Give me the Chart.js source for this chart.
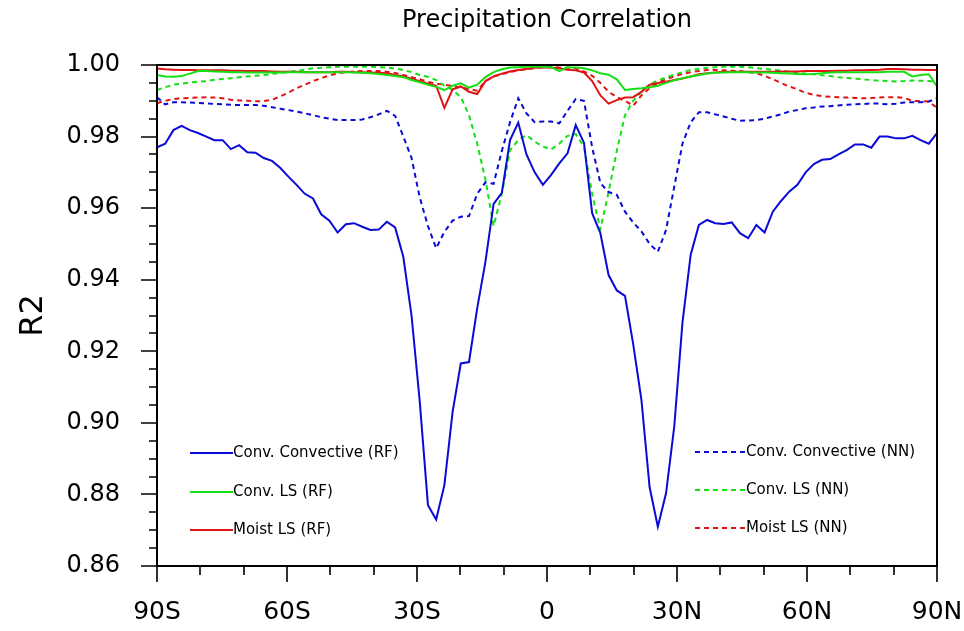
<!DOCTYPE html>
<html><head><meta charset="utf-8">
<script src="https://cdn.jsdelivr.net/npm/chart.js@4/dist/chart.umd.min.js"></script>
<style>html,body{margin:0;padding:0;background:#fff}canvas{display:block}</style>
</head><body>
<canvas id="c" width="964" height="631"></canvas>
<script>
const lats = [-90.00,-88.11,-86.21,-84.32,-82.42,-80.53,-78.63,-76.74,-74.84,-72.95,
-71.05,-69.16,-67.26,-65.37,-63.47,-61.58,-59.68,-57.79,-55.89,-54.00,
-52.11,-50.21,-48.32,-46.42,-44.53,-42.63,-40.74,-38.84,-36.95,-35.05,
-33.16,-31.26,-29.37,-27.47,-25.58,-23.68,-21.79,-19.89,-18.00,-16.11,
-14.21,-12.32,-10.42,-8.53,-6.63,-4.74,-2.84,-0.95,0.95,2.84,
4.74,6.63,8.53,10.42,12.32,14.21,16.11,18.00,19.89,21.79,
23.68,25.58,27.47,29.37,31.26,33.16,35.05,36.95,38.84,40.74,
42.63,44.53,46.42,48.32,50.21,52.11,54.00,55.89,57.79,59.68,
61.58,63.47,65.37,67.26,69.16,71.05,72.95,74.84,76.74,78.63,
80.53,82.42,84.32,86.21,88.11,90.00];

const convConvRF = [.977,.978,.9818,.983,.9818,.981,.980,.979,.979,.9765,
.9776,.9756,.9755,.974,.9732,.9713,.9688,.9665,.964,.9627,
.9583,.9565,.9532,.9555,.9558,.9548,.9539,.954,.9562,.9546,
.9464,.930,.906,.877,.873,.8826,.903,.9166,.917,.932,
.945,.9612,.9643,.979,.9839,.975,.970,.9665,.9693,.9725,
.9753,.9832,.9783,.9586,.953,.9413,.937,.9355,.922,.9064,
.882,.871,.8803,.899,.928,.947,.9553,.9567,.9558,.9556,
.956,.953,.9516,.9553,.9532,.959,.962,.9646,.9665,.970,
.9723,.9735,.9737,.975,.9762,.9778,.9778,.9769,.980,.980,
.9795,.9795,.9802,.979,.978,.981];

const convLsRF = [.9972,.9968,.9967,.9969,.9976,.9983,.9983,.9982,.9981,.998,
.998,.9979,.9979,.9979,.9979,.9979,.998,.998,.998,.998,
.998,.998,.998,.998,.9979,.9978,.9977,.9975,.9972,.9969,
.9966,.9958,.9952,.9945,.9939,.993,.9942,.9949,.9937,.9945,
.9966,.998,.9988,.9993,.9994,.9995,.9995,.9995,.9994,.9983,
.9994,.9993,.9991,.9985,.9977,.9973,.996,.993,.9933,.9935,
.9938,.9942,.995,.9957,.9963,.9968,.9972,.9976,.9978,.9979,
.998,.998,.998,.9979,.9979,.9978,.9977,.9976,.9975,.9974,
.9975,.9977,.9979,.998,.998,.998,.998,.998,.998,.9981,
.9981,.9981,.9968,.9972,.9974,.994];

const moistLsRF = [.999,.9988,.9987,.9986,.9986,.9985,.9985,.9985,.9985,.9984,
.9984,.9983,.9983,.9983,.9982,.9981,.9981,.9981,.998,.998,
.998,.998,.9981,.9981,.998,.998,.9979,.9978,.9977,.9972,
.9968,.9962,.9955,.9948,.9942,.988,.9932,.994,.9925,.9919,
.9955,.9968,.9976,.9982,.9986,.9989,.9992,.9994,.9993,.999,
.9987,.9985,.9979,.9955,.9915,.9892,.9902,.9909,.991,.9925,
.9945,.995,.9953,.9958,.9962,.9968,.9974,.9977,.9979,.9981,
.9981,.9981,.9981,.9981,.9981,.9981,.9982,.9982,.9982,.9983,
.9983,.9983,.9983,.9984,.9984,.9985,.9985,.9986,.9987,.9989,
.9989,.9988,.9987,.9987,.9986,.9986];

const convConvNN = [.991,.989,.9896,.9896,.9895,.9894,.9893,.9891,.989,.9889,
.9888,.9888,.9888,.9886,.9882,.9878,.9874,.987,.9865,.986,
.9854,.985,.9846,.9846,.9846,.9848,.9854,.9862,.9872,.9858,
.980,.974,.963,.955,.9488,.9534,.9565,.9576,.9578,.964,
.9672,.9668,.976,.984,.9907,.9865,.984,.9842,.9842,.9837,
.9872,.9905,.990,.977,.967,.9645,.9637,.959,.956,.9535,
.950,.9478,.9539,.966,.978,.984,.9868,.9868,.9862,.9856,
.985,.9844,.9845,.9846,.985,.9856,.9862,.987,.9874,.9879,
.9881,.9884,.9885,.9887,.9889,.989,.9891,.9893,.9892,.989,
.9892,.9895,.9896,.9896,.9898,.9907];

const convLsNN = [.993,.9938,.9945,.9948,.9951,.9953,.9955,.9959,.9961,.9963,
.9966,.9968,.997,.9972,.9975,.9978,.998,.9984,.9987,.9991,
.9992,.9994,.9995,.9995,.9995,.9995,.9995,.9994,.9993,.999,
.9986,.998,.9972,.9967,.9958,.9942,.993,.991,.986,.978,
.968,.955,.964,.9762,.979,.9804,.9786,.9772,.9764,.978,
.9802,.9807,.9772,.964,.954,.9645,.976,.986,.990,.9925,
.9945,.9957,.9965,.9973,.998,.9986,.9989,.9992,.9994,.9995,
.9995,.9995,.9994,.9991,.9989,.9987,.9984,.9981,.9978,.9976,
.9974,.9971,.9969,.9966,.9964,.9962,.996,.9958,.9956,.9955,
.9954,.9955,.9957,.9956,.9955,.9953];

const moistLsNN = [.9893,.99,.9905,.9907,.9908,.9909,.991,.9909,.9907,.9903,
.9901,.99,.9899,.9899,.9903,.9912,.9923,.9935,.9945,.9955,
.9963,.9971,.9977,.998,.9982,.9983,.9983,.9983,.9981,.9978,
.9972,.9966,.996,.9953,.9948,.9945,.9941,.9937,.9933,.9928,
.9955,.9968,.9974,.998,.9985,.9988,.9991,.9994,.9994,.9993,
.9992,.999,.9982,.997,.995,.9925,.991,.99,.9886,.9915,
.9935,.995,.996,.9968,.9975,.998,.9983,.9986,.9986,.9985,
.9984,.9983,.998,.9977,.997,.996,.995,.994,.9932,.9922,
.9917,.9913,.9911,.991,.9909,.9908,.9907,.9908,.9909,.991,
.991,.9908,.99,.9899,.9898,.988];

const xTickValues = [-90, -60, -30, 0, 30, 60, 90];
const xTickLabels = ['90S', '60S', '30S', '0', '30N', '60N', '90N'];
const yTickValues = [0.86, 0.88, 0.90, 0.92, 0.94, 0.96, 0.98, 1.00];
const seriesNames = ['Conv. Convective (RF)', 'Conv. LS (RF)', 'Moist LS (RF)',
                     'Conv. Convective (NN)', 'Conv. LS (NN)', 'Moist LS (NN)'];
const chartTitle = 'Precipitation Correlation';
const yTitle = 'R2';

const FONT = "'DejaVu Sans', sans-serif";
const BLUE = '#0a0ad6', GREEN = '#14e014', RED = '#e01414';
const DASH = [5, 4];

function pts(vals) { return vals.map((v, i) => ({x: lats[i], y: v})); }

const series = [
  {name: seriesNames[0], data: convConvRF, color: BLUE, dash: []},
  {name: seriesNames[1], data: convLsRF, color: GREEN, dash: []},
  {name: seriesNames[2], data: moistLsRF, color: RED, dash: []},
  {name: seriesNames[3], data: convConvNN, color: BLUE, dash: DASH},
  {name: seriesNames[4], data: convLsNN, color: GREEN, dash: DASH},
  {name: seriesNames[5], data: moistLsNN, color: RED, dash: DASH},
];

const nclPlugin = {
  id: 'ncl',
  afterDraw(chart) {
    const ctx = chart.ctx, a = chart.chartArea;
    const xs = chart.scales.x, ys = chart.scales.y;
    ctx.save();
    ctx.strokeStyle = '#000';
    ctx.lineWidth = 2;
    ctx.strokeRect(a.left, a.top, a.right - a.left, a.bottom - a.top);
    ctx.lineWidth = 1.6;
    ctx.beginPath();
    for (let k = 0; k <= 28; k++) {
      const v = 0.86 + k * 0.005;
      const y = Math.round(ys.getPixelForValue(v));
      const len = (k % 4 === 0) ? 16 : 8;
      ctx.moveTo(a.left, y); ctx.lineTo(a.left - len, y);
    }
    for (let k = 0; k <= 18; k++) {
      const v = -90 + k * 10;
      const x = Math.round(xs.getPixelForValue(v));
      const len = (k % 3 === 0) ? 16 : 9;
      ctx.moveTo(x, a.bottom); ctx.lineTo(x, a.bottom + len);
    }
    ctx.stroke();

    ctx.font = '15px ' + FONT;
    ctx.fillStyle = '#000';
    ctx.textBaseline = 'middle';
    ctx.textAlign = 'left';
    const leftRows = [453, 492, 530];
    const rightRows = [452, 490, 528];
    for (let i = 0; i < 3; i++) {
      const s = series[i];
      ctx.strokeStyle = s.color; ctx.lineWidth = 2; ctx.setLineDash([]);
      ctx.beginPath(); ctx.moveTo(190, leftRows[i]); ctx.lineTo(233, leftRows[i]); ctx.stroke();
      ctx.fillText(s.name, 233, leftRows[i]);
    }
    for (let i = 3; i < 6; i++) {
      const s = series[i];
      const y = rightRows[i - 3];
      ctx.strokeStyle = s.color; ctx.lineWidth = 2; ctx.setLineDash(DASH);
      ctx.beginPath(); ctx.moveTo(695, y); ctx.lineTo(746, y); ctx.stroke();
      ctx.setLineDash([]);
      ctx.fillText(s.name, 746, y);
    }
    ctx.restore();
  }
};

Chart.defaults.color = '#000';
Chart.defaults.font.family = FONT;

new Chart(document.getElementById('c'), {
  type: 'line',
  data: {
    datasets: series.map(s => ({
      label: s.name,
      data: pts(s.data),
      borderColor: s.color,
      backgroundColor: s.color,
      borderDash: s.dash,
      borderWidth: 2,
      pointRadius: 0,
      tension: 0,
      fill: false
    }))
  },
  options: {
    responsive: false,
    animation: false,
    devicePixelRatio: 1,
    layout: {padding: {left: 0, right: 27, top: 0, bottom: 0}},
    plugins: {
      legend: {display: false},
      tooltip: {enabled: false},
      title: {
        display: true, text: chartTitle, fullSize: false,
        font: {size: 24, weight: 'normal', family: FONT},
        color: '#000',
        padding: {top: 6, bottom: 30.2}
      }
    },
    scales: {
      x: {
        type: 'linear', min: -90, max: 90,
        grid: {display: false, drawTicks: false},
        border: {display: false},
        afterBuildTicks: sc => { sc.ticks = xTickValues.map(v => ({value: v})); },
        afterFit: sc => { sc.height = 65; sc.paddingLeft = 0; sc.paddingRight = 0; },
        ticks: {
          autoSkip: false, maxRotation: 0, padding: 31,
          font: {size: 25, family: FONT},
          color: '#000',
          callback: (v, i) => xTickLabels[i]
        }
      },
      y: {
        type: 'linear', min: 0.86, max: 1.0,
        grid: {display: false, drawTicks: false},
        border: {display: false},
        afterBuildTicks: sc => { sc.ticks = yTickValues.map(v => ({value: v})); },
        afterFit: sc => { sc.width = 157; sc.paddingTop = 0; sc.paddingBottom = 0; },
        title: {display: true, text: yTitle, font: {size: 32, family: FONT}, color: '#000', padding: {top: 14, bottom: 0}},
        ticks: {
          autoSkip: false, padding: 37,
          font: {size: 24, family: FONT},
          color: '#000',
          callback: v => Number(v).toFixed(2)
        }
      }
    }
  },
  plugins: [nclPlugin]
});
</script>
</body></html>
